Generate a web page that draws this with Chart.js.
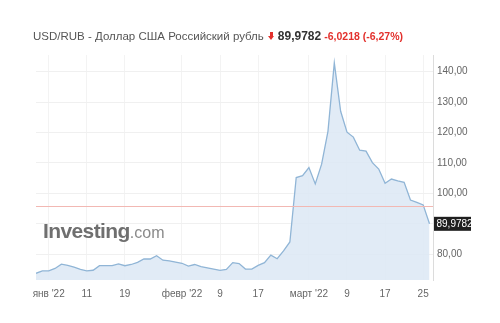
<!DOCTYPE html>
<html>
<head>
<meta charset="utf-8">
<script src="https://cdn.jsdelivr.net/npm/chart.js@4.4.1/dist/chart.umd.min.js"></script>
<style>
  html, body { margin: 0; padding: 0; background: #fff; }
  #wrap { position: relative; width: 500px; height: 323px; overflow: hidden; }
  #chart { position: absolute; left: 0; top: 0; }
  #title { position: absolute; left: 33px; top: 29px; font: 11.5px "Liberation Sans", Arial, sans-serif; color: #555; white-space: nowrap; line-height: 14px; }
  #title .last { font-weight: bold; color: #333; font-size: 12px; }
  #title .chg { font-weight: bold; color: #e3312d; font-size: 10.5px; margin-left: 3px; }
  #title .arrow { display: inline-block; position: relative; width: 7px; height: 9px; margin: 0 3px 0 4px; vertical-align: -1px; }
  #title .arrow:before { content: ""; position: absolute; left: 2px; top: 0; width: 3px; height: 4px; background: #e3312d; }
  #title .arrow:after { content: ""; position: absolute; left: 0; top: 4px; border-left: 3.5px solid transparent; border-right: 3.5px solid transparent; border-top: 4px solid #e3312d; }
  #logo { position: absolute; left: 43px; top: 219px; font: bold 21px "Liberation Sans", Arial, sans-serif; color: #6f6f6f; letter-spacing: -0.6px; white-space: nowrap; }
  #logo span { font-weight: normal; font-size: 16px; color: #8a8a8a; letter-spacing: 0; }
</style>
</head>
<body>
<div id="wrap">
  <canvas id="chart" width="500" height="323"></canvas>
  <div id="logo">Investing<span>.com</span></div>
  <div id="title"></div>
</div>
<script>
var dates, rates, tickDates, tickText, lastPrice, change, changePct, instrument;

instrument = "USD/RUB - Доллар США Российский рубль";

dates = [
  "30.12", "31.12",
  "03.01", "04.01", "05.01", "06.01", "07.01", "10.01", "11.01", "12.01", "13.01", "14.01",
  "17.01", "18.01", "19.01", "20.01", "21.01", "24.01", "25.01", "26.01", "27.01", "28.01", "31.01",
  "01.02", "02.02", "03.02", "04.02", "07.02", "08.02", "09.02", "10.02", "11.02",
  "14.02", "15.02", "16.02", "17.02", "18.02", "21.02", "22.02", "23.02", "24.02", "25.02", "28.02",
  "01.03", "02.03", "03.03", "04.03", "07.03", "08.03", "09.03", "10.03", "11.03",
  "14.03", "15.03", "16.03", "17.03", "18.03", "21.03", "22.03", "23.03", "24.03", "25.03", "28.03"
];

rates = [
  73.7, 74.5,
  74.5, 75.3, 76.7, 76.3, 75.7, 75.0, 74.5, 74.7, 76.2, 76.2,
  76.2, 76.8, 76.2, 76.6, 77.3, 78.4, 78.4, 79.5, 78.0, 77.8, 77.4,
  77.0, 76.1, 76.6, 75.9, 75.5, 75.1, 74.7, 75.0, 77.2,
  76.9, 75.1, 75.1, 76.3, 77.2, 79.7, 78.5, 81.1, 84.0, 105.2, 105.8,
  108.5, 103.1, 109.6, 120.4, 142.9, 127.0, 120.1, 118.5, 114.2,
  113.9, 110.1, 108.0, 103.3, 104.7, 104.1, 103.6, 97.8, 97.0, 96.2, 89.9782
];

tickDates = ["03.01", "11.01", "19.01", "01.02", "09.02", "17.02", "01.03", "09.03", "17.03", "25.03"];
tickText = ["янв '22", "11", "19", "февр '22", "9", "17", "март '22", "9", "17", "25"];

lastPrice = rates[rates.length - 1];
change = -6.0218;
changePct = -6.27;

var fmt = function(v, d) {
  return v.toFixed(d).replace(".", ",");
};

document.getElementById("title").innerHTML =
  instrument + '<span class="arrow"></span><span class="last">' + fmt(lastPrice, 4) + "</span>" +
  '<span class="chg">' + fmt(change, 4) + " (" + fmt(changePct, 2) + "%)</span>";

var tickIdx = tickDates.map(function(d) { return dates.indexOf(d); });

var extras = {
  id: "extras",
  afterDatasetsDraw: function(chart) {
    var ctx = chart.ctx, area = chart.chartArea, y = chart.scales.y;
    var prevY = Math.round(y.getPixelForValue(lastPrice - change)) + 0.5;
    ctx.save();
    ctx.strokeStyle = "#f2b8b3";
    ctx.lineWidth = 1;
    ctx.beginPath();
    ctx.moveTo(area.left, prevY);
    ctx.lineTo(area.right, prevY);
    ctx.stroke();
    var ly = y.getPixelForValue(lastPrice);
    ctx.fillStyle = "#1f1f1f";
    ctx.fillRect(area.right + 1, ly - 7, 37, 14);
    ctx.fillStyle = "#fff";
    ctx.font = "10px 'Liberation Sans', Arial, sans-serif";
    ctx.textBaseline = "middle";
    ctx.fillText(fmt(lastPrice, 4), area.right + 3.5, ly + 0.5);
    ctx.restore();
  }
};

new Chart(document.getElementById("chart"), {
  type: "line",
  data: {
    datasets: [{
      data: rates.map(function(v, i) { return { x: i, y: v }; }),
      borderColor: "#90b5d6",
      borderWidth: 1.3,
      backgroundColor: "rgba(220,232,244,0.85)",
      fill: "start",
      pointRadius: 0,
      tension: 0
    }]
  },
  options: {
    responsive: false,
    animation: false,
    layout: { padding: { left: 36, top: 55, bottom: 13, right: 0 } },
    plugins: { legend: { display: false }, tooltip: { enabled: false } },
    scales: {
      x: {
        type: "linear",
        min: 0,
        max: 62.55,
        afterBuildTicks: function(scale) {
          scale.ticks = tickIdx.map(function(i) { return { value: i }; });
        },
        afterFit: function(scale) { scale.height = 30; },
        border: { display: false },
        grid: { color: "#f3f3f3", drawTicks: false },
        ticks: {
          padding: 8,
          maxRotation: 0,
          autoSkip: false,
          color: "#666",
          font: { family: "'Liberation Sans', Arial, sans-serif", size: 10 },
          callback: function(v) {
            var k = tickIdx.indexOf(v);
            return k >= 0 ? tickText[k] : "";
          }
        }
      },
      y: {
        position: "right",
        min: 71.5,
        max: 145.5,
        afterFit: function(scale) { scale.width = 67; },
        border: { display: true, color: "#dcdcdc" },
        grid: { color: "#f0f0f0", drawTicks: false },
        ticks: {
          stepSize: 10,
          includeBounds: false,
          padding: 4,
          color: "#666",
          font: { family: "'Liberation Sans', Arial, sans-serif", size: 10 },
          callback: function(v) { return fmt(v, 2); }
        }
      }
    }
  },
  plugins: [extras]
});
</script>
</body>
</html>
